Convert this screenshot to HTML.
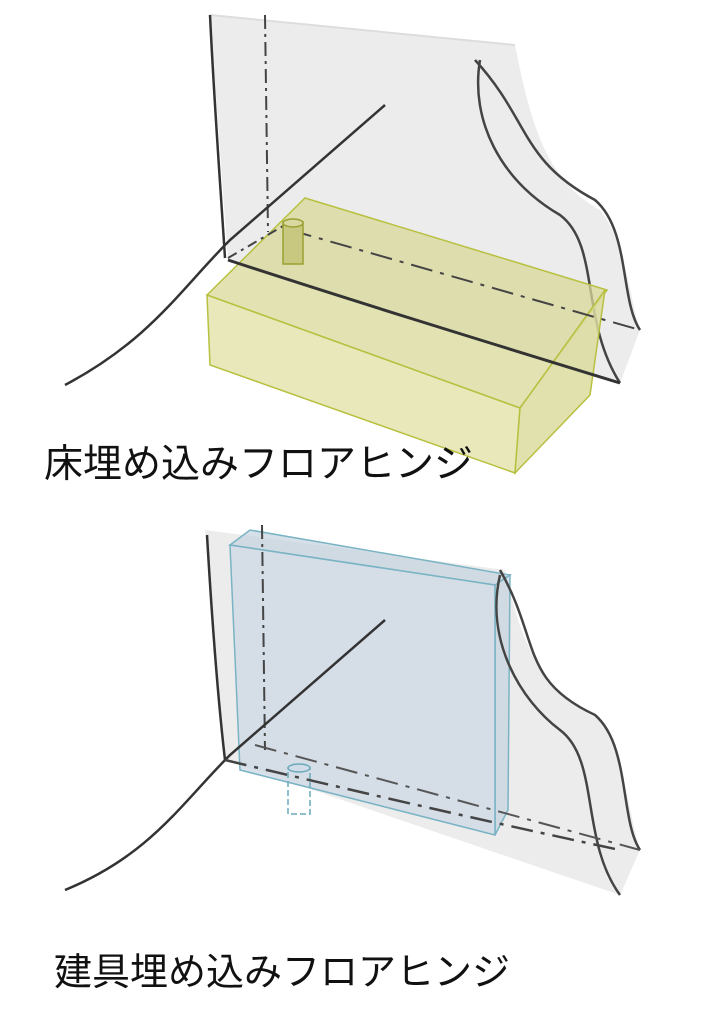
<!DOCTYPE html>
<html><head><meta charset="utf-8"><style>
html,body{margin:0;padding:0;background:#fff;}
svg{display:block}
text{font-family:"Liberation Sans","Noto Sans CJK JP",sans-serif;}
</style></head><body>
<svg width="724" height="1024" viewBox="0 0 724 1024" xmlns="http://www.w3.org/2000/svg">
<!-- TOP -->
<path d="M210,15 L515,45 C530,120 545,180 600,210 C625,240 630,300 640,330 L620,383 L228,260 Z" fill="#ececec" stroke="none"/>
<path d="M210,15 L515,45" stroke="#ddd" stroke-width="2" fill="none"/>
<path d="M210,15 C214,100 220,180 225,258" stroke="#333" stroke-width="2.5" fill="none"/>
<path d="M265,15 L268,232" stroke="#444" stroke-width="2" stroke-dasharray="14,5,3,5" fill="none"/>
<path d="M480,60 C470,120 500,180 560,215 C600,245 580,320 620,383" stroke="#444" stroke-width="2.5" fill="none"/>
<path d="M475,60 C530,120 520,160 595,200 C630,230 620,300 640,330" stroke="#444" stroke-width="2.5" fill="none"/>
<path d="M385,105 L230,240 C180,290 150,340 65,385" stroke="#333" stroke-width="2.5" fill="none"/>
<!-- yellow box -->
<path d="M207,295 L305,198 L607,290 L520,408 Z" fill="#d8d89a" fill-opacity="0.75" stroke="#b8c040" stroke-width="1.5"/>
<path d="M207,295 L520,408 L515,473 L210,365 Z" fill="#e4e4ae" fill-opacity="0.85" stroke="#b8c040" stroke-width="1.5"/>
<path d="M520,408 L605,290 L590,395 L515,473 Z" fill="#dcdca0" fill-opacity="0.85" stroke="#b8c040" stroke-width="1.5"/>
<path d="M228,260 C350,300 480,340 620,383" stroke="#333" stroke-width="3" fill="none"/>
<path d="M290,230 L640,330" stroke="#444" stroke-width="2" stroke-dasharray="22,8,4,8" fill="none"/>
<path d="M228,258 L290,222" stroke="#444" stroke-width="2" stroke-dasharray="10,5,3,5" fill="none"/>
<rect x="283" y="222" width="20" height="42" fill="#c8c880" stroke="#9aa030" stroke-width="1.5"/>
<ellipse cx="293" cy="223" rx="10" ry="4" fill="#d8d8a0" stroke="#9aa030" stroke-width="1.5"/>
<text x="44" y="477" font-size="39" fill="#111">床埋め込みフロアヒンジ</text>
<!-- BOTTOM -->
<path d="M205,530 L505,570 C520,640 540,690 600,720 C625,760 630,820 640,850 L620,895 L225,760 Z" fill="#ececec"/>
<!-- blue panel -->
<path d="M230,545 L250,530 L510,575 L495,585 Z" fill="#c5d3e0" fill-opacity="0.7" stroke="#7ab4c4" stroke-width="1.5"/>
<path d="M495,585 L510,575 L508,810 L495,835 Z" fill="#c5d3e0" fill-opacity="0.7" stroke="#7ab4c4" stroke-width="1.5"/>
<path d="M230,545 L495,585 L495,835 L240,770 Z" fill="#cdd8e6" fill-opacity="0.75" stroke="#7ab4c4" stroke-width="1.5"/>
<path d="M207,535 C212,620 218,700 225,760" stroke="#333" stroke-width="2.5" fill="none"/>
<path d="M262,525 L265,750" stroke="#444" stroke-width="2" stroke-dasharray="14,5,3,5" fill="none"/>
<path d="M385,620 L230,755 C180,805 150,855 65,890" stroke="#333" stroke-width="2.5" fill="none"/>
<path d="M500,575 C485,640 520,700 560,730 C600,760 580,840 620,895" stroke="#444" stroke-width="2.5" fill="none"/>
<path d="M500,570 C540,640 520,680 595,715 C630,745 620,820 640,850" stroke="#444" stroke-width="2.5" fill="none"/>
<path d="M225,760 C350,790 480,820 620,850" stroke="#444" stroke-width="2.5" stroke-dasharray="22,8,4,8" fill="none"/>
<path d="M255,745 L640,850" stroke="#555" stroke-width="2" stroke-dasharray="22,8,4,8" fill="none"/>
<rect x="288" y="768" width="22" height="46" fill="none" stroke="#6aaabb" stroke-width="1.5" stroke-dasharray="6,3"/>
<ellipse cx="299" cy="768" rx="11" ry="4" fill="#d0dde8" stroke="#6aaabb" stroke-width="1.5"/>
<text x="54" y="985" font-size="38" fill="#111">建具埋め込みフロアヒンジ</text>
</svg>
</body></html>
